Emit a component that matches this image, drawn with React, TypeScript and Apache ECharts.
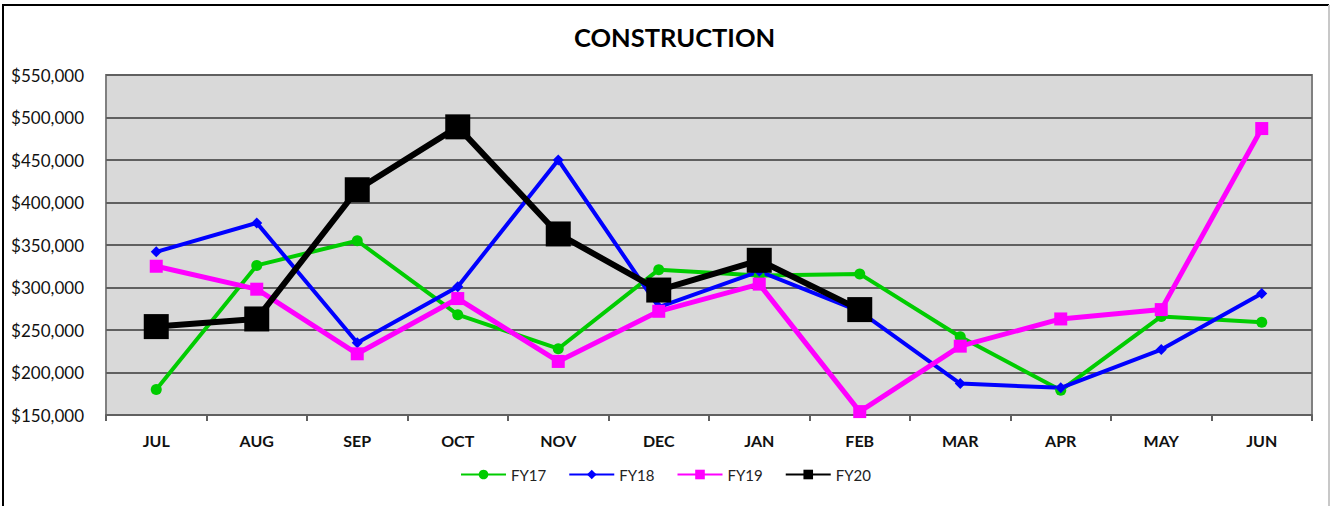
import React, { useEffect, useRef } from "react";
import * as echarts from "echarts";

const months = ["JUL", "AUG", "SEP", "OCT", "NOV", "DEC", "JAN", "FEB", "MAR", "APR", "MAY", "JUN"];
const fy17 = [180000, 326000, 355000, 268000, 228000, 321000, 314000, 316000, 242000, 179000, 266000, 259000];
const fy18 = [342000, 376000, 235000, 301000, 450000, 277000, 319000, 272000, 187000, 182000, 227000, 293000];
const fy19 = [325000, 298000, 222000, 287000, 213000, 272000, 304000, 154000, 231000, 263000, 274000, 487000];
const fy20 = [254000, 263000, 415000, 489000, 363000, 297000, 332000, 274000, null, null, null, null];
const yTicks = { min: 150000, max: 550000, interval: 50000 };

const FONT = "Lato, 'Open Sans', sans-serif";

export default function App() {
  const ref = useRef<HTMLDivElement>(null);
  useEffect(() => {
    document.body.style.margin = "0";
    const chart = echarts.init(ref.current!, null, { renderer: "svg" });
    const mk = (name: string, data: (number | null)[], color: string, symbol: string, size: number, width: number) => ({
      name,
      type: "line",
      data,
      symbol,
      symbolSize: size,
      showSymbol: true,
      lineStyle: { color, width },
      itemStyle: { color, borderWidth: 0 },
      connectNulls: false,
      z: 3,
    });
    chart.setOption({
      animation: false,
      backgroundColor: "#ffffff",
      title: {
        text: "CONSTRUCTION",
        left: 569,
        top: 19,
        textStyle: { fontFamily: FONT, fontSize: 25.5, fontWeight: "bold", color: "#000" },
      },
      grid: {
        left: 106,
        right: 19,
        top: 75,
        bottom: 91,
        show: true,
        backgroundColor: "#d9d9d9",
        borderColor: "#808080",
        borderWidth: 2,
      },
      legend: {
        bottom: 19,
        left: "center",
        itemWidth: 45,
        itemHeight: 12,
        itemGap: 22,
        textStyle: { fontFamily: FONT, fontSize: 15, color: "#222" },
        data: ["FY17", "FY18", "FY19", "FY20"],
      },
      xAxis: {
        type: "category",
        data: months,
        boundaryGap: true,
        axisLine: { lineStyle: { color: "#606060", width: 2 } },
        axisTick: { show: true, length: 6, lineStyle: { color: "#606060", width: 2 } },
        axisLabel: { fontFamily: FONT, fontSize: 16, fontWeight: "bold", color: "#111", margin: 17 },
      },
      yAxis: {
        type: "value",
        min: yTicks.min,
        max: yTicks.max,
        interval: yTicks.interval,
        axisLine: { show: false },
        axisTick: { show: false },
        splitLine: { lineStyle: { color: "#606060", width: 2 } },
        axisLabel: {
          fontFamily: FONT,
          fontSize: 17,
          color: "#111",
          margin: 22,
          formatter: (v: number) => "$" + v.toLocaleString("en-US"),
        },
      },
      graphic: [
        {
          type: "polyline",
          shape: { points: [[3, 506], [3, 5], [1329, 5]] },
          style: { stroke: "#000", lineWidth: 2, fill: null },
          silent: true,
        },
        {
          type: "line",
          shape: { x1: 1329, y1: 5, x2: 1329, y2: 506 },
          style: { stroke: "#c8c8c8", lineWidth: 2 },
          silent: true,
        },
      ],
      series: [
        mk("FY17", fy17, "#00cc00", "circle", 11, 4),
        mk("FY18", fy18, "#0000ff", "diamond", 11, 4),
        mk("FY19", fy19, "#ff00ff", "rect", 13, 5),
        mk("FY20", fy20, "#000000", "rect", 25, 6),
      ],
    });
    return () => chart.dispose();
  }, []);
  return <div ref={ref} style={{ position: "absolute", left: 0, top: 0, width: 1331, height: 506 }} />;
}
